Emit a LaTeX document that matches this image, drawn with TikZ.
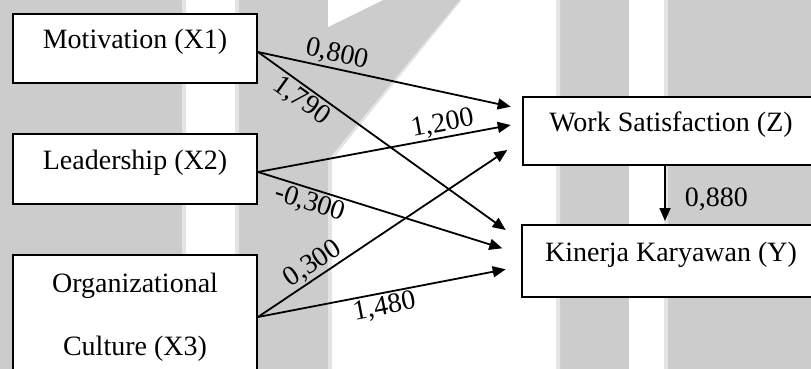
\documentclass[tikz,border=0pt]{standalone}
\usepackage{fontspec}
\setmainfont{Liberation Serif}
\usetikzlibrary{arrows.meta}
\definecolor{wmgray}{HTML}{CCCCCC}
\definecolor{wmlight}{HTML}{E4E4E4}
\tikzset{
  box/.style={draw=black, line width=2pt, fill=white, inner sep=0pt,
              text height=9pt, text depth=9pt, align=center},
  arr/.style={line width=1.8pt, -{Triangle[length=13pt,width=11pt]}},
  lbl/.style={sloped, inner sep=2pt},
}
\begin{document}
\begin{tikzpicture}[x=1pt,y=-1pt,font=\fontsize{28}{63}\selectfont]
\useasboundingbox (0,0) rectangle (811,369);
\clip (0,0) rectangle (811,369);
% watermark background
\fill[wmgray] (0,0) rectangle (811,369);
\fill[wmlight] (181.5,0) rectangle (239,369);
\fill[white] (185.5,0) rectangle (235,369);
\fill[wmlight] (328,160) -- (460,0) -- (560,0) -- (560,369) -- (328,369) -- cycle;
\fill[white] (332,160) -- (462,0) -- (556,0) -- (556,369) -- (332,369) -- cycle;
\fill[white] (328,0) -- (383,0) -- (328,27) -- cycle;
\fill[wmlight] (629,0) rectangle (668,369);
\fill[white] (629,0) rectangle (664,369);
% boxes
\node[box, minimum width=244pt, minimum height=69pt] (m) at (135,48.5) {Motivation (X1)};
\node[box, minimum width=244pt, minimum height=70pt] (l) at (135,169) {Leadership (X2)};
\node[box, minimum width=244pt, minimum height=124pt, text height=, text depth=] (o) at (135,317) {Organizational\\Culture (X3)};
\node[box, minimum width=296pt, minimum height=68pt] (w) at (671,131) {Work Satisfaction (Z)};
\node[box, minimum width=298pt, minimum height=72pt] (k) at (671,261) {Kinerja Karyawan (Y)};
\coordinate (ax) at (665,0);
% connectors
\draw[arr] ([yshift=-3.5pt]m.east) -- node[lbl, above, pos=0.30] {0,800} ([xshift=-11.3pt,yshift=24.3pt]w.west);
\draw[arr] ([yshift=-3.5pt]m.east) -- node[lbl, below, pos=0.21] {1,790} ([xshift=-15.3pt,yshift=31pt]k.west);
\draw[arr] ([yshift=-3pt]l.east) -- node[lbl, above, pos=0.74, inner sep=1pt] {1,200} ([xshift=-11.3pt,yshift=6pt]w.west);
\draw[arr] ([yshift=-3pt]l.east) -- node[lbl, below, pos=0.23] {-0,300} ([xshift=-18.7pt,yshift=12.7pt]k.west);
\draw[arr] (o.east) -- node[lbl, above, pos=0.25, inner sep=1pt] {0,300} ([xshift=-14.7pt,yshift=-19pt]w.west);
\draw[arr] (o.east) -- node[lbl, below, pos=0.50] {1,480} ([xshift=-15.3pt,yshift=-8.3pt]k.west);
\draw[arr] (w.south -| ax) -- node[anchor=west, pos=0.6, xshift=19pt, inner sep=0pt] (v) {0,880} ([yshift=3pt]k.north -| ax);
\end{tikzpicture}
\end{document}
